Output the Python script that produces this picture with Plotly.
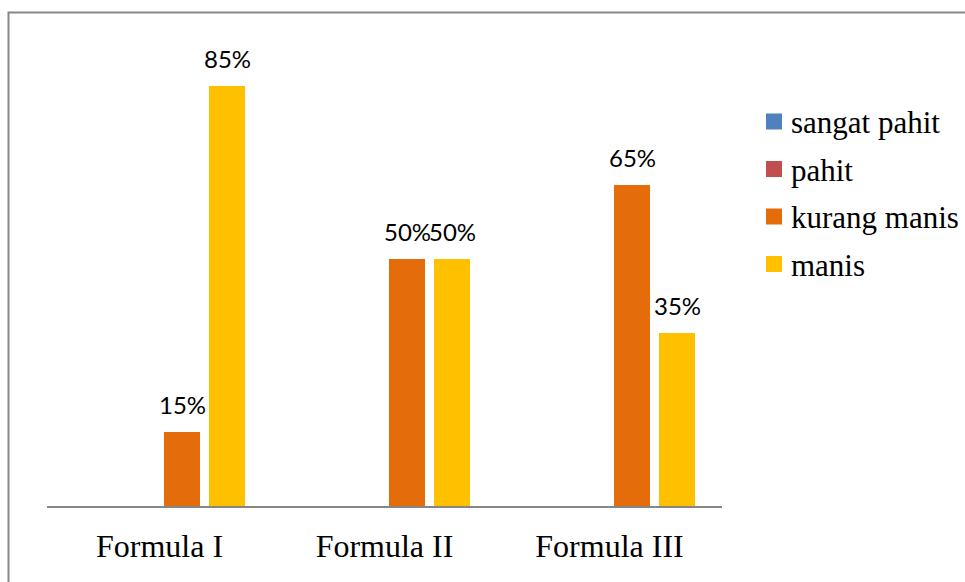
import plotly.graph_objects as go

# Data
categories = ["Formula I", "Formula II", "Formula III"]
series_names = ["sangat pahit", "pahit", "kurang manis", "manis"]
sangat_pahit = [0, 0, 0]
pahit = [0, 0, 0]
kurang_manis = [15, 50, 65]
manis = [85, 50, 35]
series_values = [sangat_pahit, pahit, kurang_manis, manis]
colors = ["#4F81BD", "#C0504D", "#E46C0A", "#FFC000"]

# Layout geometry (pixels)
W_FIG, H_FIG = 965, 582
L, R, T, B = 47, 243, 12, 76
PW = W_FIG - L - R
PH = H_FIG - T - B


def px_x(p):
    return (p - L) / PW


def px_y(p):
    return (H_FIG - B - p) / PH


xpos = list(range(len(categories)))
n_series = len(series_names)
bargap = 0.2
slot = (1 - bargap) / n_series

fig = go.Figure()
for name, vals, col in zip(series_names, series_values, colors):
    fig.add_trace(go.Bar(
        x=xpos, y=vals, name=name,
        marker=dict(color=col, line=dict(width=0)),
        showlegend=False,
    ))

# Value labels above non-zero bars
annotations = []
for j, vals in enumerate(series_values):
    for i, v in enumerate(vals):
        if v == 0:
            continue
        annotations.append(dict(
            x=i - (1 - bargap) / 2 + (j + 0.5) * slot, y=v,
            xref="x", yref="y", text=f"{v}%", showarrow=False,
            xanchor="center", yanchor="bottom", yshift=11,
            font=dict(family="Lato", size=24, color="#000000"),
        ))

# Legend: coloured squares with serif labels
shapes = []
leg_x0, leg_sq = 766, 16
leg_y0, leg_dy = 121.5, 47.5
for k, (name, col) in enumerate(zip(series_names, colors)):
    cy = leg_y0 + k * leg_dy
    shapes.append(dict(
        type="rect", xref="paper", yref="paper",
        x0=px_x(leg_x0), x1=px_x(leg_x0 + leg_sq),
        y0=px_y(cy + leg_sq / 2), y1=px_y(cy - leg_sq / 2),
        fillcolor=col, line=dict(width=0),
    ))
    annotations.append(dict(
        x=px_x(789), y=px_y(cy + 1), xref="paper", yref="paper",
        text=name, showarrow=False, xanchor="left", yanchor="middle",
        font=dict(family="Liberation Serif", size=31, color="#000000"),
    ))

# Outer chart border
shapes.append(dict(
    type="rect", xref="paper", yref="paper",
    x0=px_x(8.5), x1=px_x(980), y0=px_y(600), y1=px_y(12.5),
    line=dict(color="#888888", width=2), fillcolor="rgba(0,0,0,0)",
    layer="below",
))

fig.update_layout(
    width=W_FIG, height=H_FIG,
    margin=dict(l=L, r=R, t=T, b=B),
    paper_bgcolor="white", plot_bgcolor="white",
    barmode="group", bargap=bargap, bargroupgap=0.2,
    showlegend=False,
    annotations=annotations, shapes=shapes,
    xaxis=dict(
        range=[-0.5, len(categories) - 0.5],
        tickvals=xpos, ticktext=categories,
        showline=True, linecolor="#868686", linewidth=2,
        showgrid=False, zeroline=False, ticks="",
        ticklabelstandoff=11,
        tickfont=dict(family="Liberation Serif", size=32, color="#000000"),
    ),
    yaxis=dict(range=[0, 100], visible=False, showgrid=False, zeroline=False),
)

fig.write_html("out.html")
